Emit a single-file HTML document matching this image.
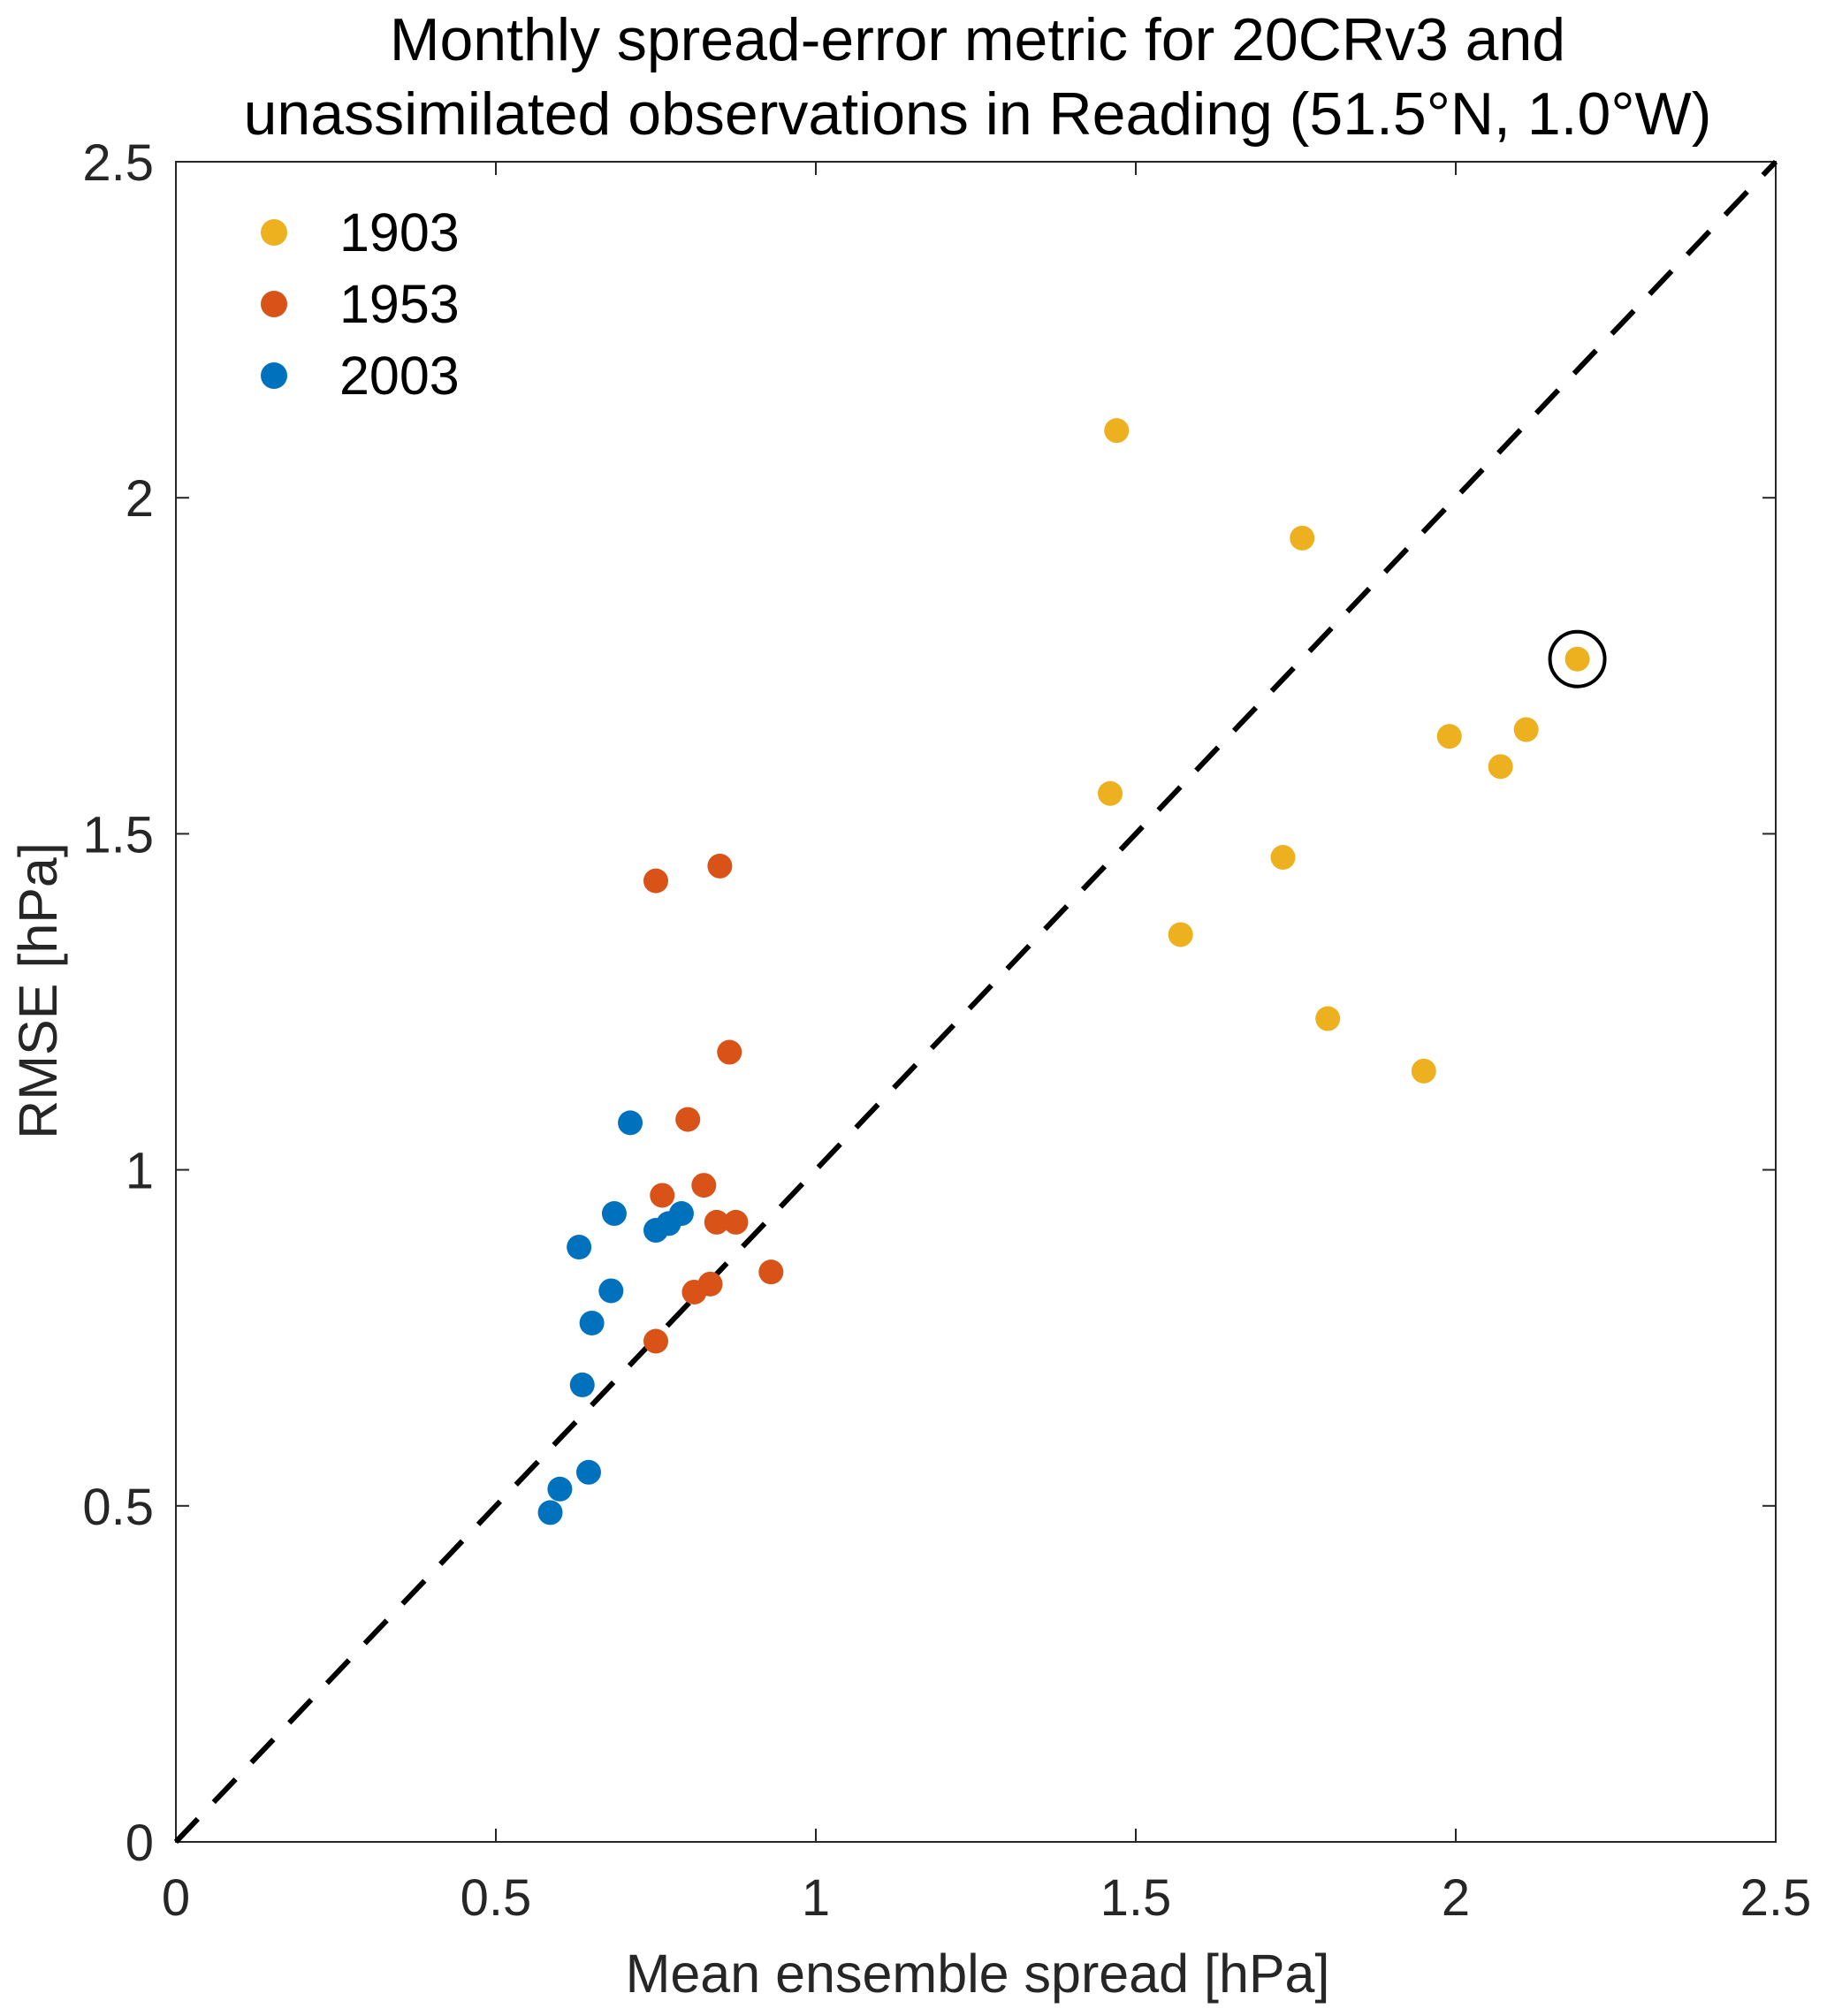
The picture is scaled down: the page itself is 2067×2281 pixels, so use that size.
<!DOCTYPE html>
<html><head><meta charset="utf-8"><style>
html,body{margin:0;padding:0;background:#fff;}
svg{display:block;font-family:"Liberation Sans",Arial,sans-serif;}
</style></head><body>
<svg id="chart" width="2067" height="2281" viewBox="0 0 2067 2281" xmlns="http://www.w3.org/2000/svg">
<text x="1106" y="68" font-size="68" text-anchor="middle" fill="#000">Monthly spread-error metric for 20CRv3 and</text>
<text x="1106" y="152" font-size="68" text-anchor="middle" fill="#000">unassimilated observations in Reading (51.5°N, 1.0°W)</text>
<g id="axes"></g>
<g id="marks"></g>
<text x="1106" y="2254" font-size="61" text-anchor="middle" fill="#262626">Mean ensemble spread [hPa]</text>
<text transform="translate(64,1121) rotate(-90)" font-size="61" text-anchor="middle" fill="#262626">RMSE [hPa]</text>
</svg>
<script>
const xTicks=[0,0.5,1,1.5,2,2.5];
const yTicks=[0,0.5,1,1.5,2,2.5];
const xTickLabels=["0","0.5","1","1.5","2","2.5"];
const yTickLabels=["0","0.5","1","1.5","2","2.5"];
const seriesNames=["1903","1953","2003"];
const x1903=[1.47,1.76,2.19,1.99,2.11,2.07,1.46,1.73,1.57,1.80,1.95];
const y1903=[2.10,1.94,1.76,1.645,1.655,1.60,1.56,1.465,1.35,1.225,1.147];
const x1953=[0.75,0.85,0.865,0.80,0.76,0.825,0.845,0.875,0.93,0.835,0.81,0.75];
const y1953=[1.43,1.452,1.175,1.075,0.962,0.977,0.922,0.922,0.848,0.83,0.818,0.745];
const x2003=[0.71,0.685,0.79,0.77,0.75,0.63,0.68,0.65,0.635,0.645,0.60,0.585];
const y2003=[1.07,0.935,0.935,0.92,0.91,0.885,0.82,0.772,0.68,0.55,0.525,0.49];
const highlightX=[2.19];
const highlightY=[1.76];
const colors=["#EDB120","#D95319","#0072BD"];
const L=199,R=2009,T=183,B=2084;
const sx=v=>L+(v-0)/(2.5-0)*(R-L);
const sy=v=>B-(v-0)/(2.5-0)*(B-T);
const NS="http://www.w3.org/2000/svg";
function mk(tag,attrs,parent){const e=document.createElementNS(NS,tag);for(const k in attrs)e.setAttribute(k,attrs[k]);parent.appendChild(e);return e;}
const axes=document.getElementById('axes'),marks=document.getElementById('marks');
const box=mk('rect',{x:L,y:T,width:R-L,height:B-T,fill:'none',stroke:'#262626','stroke-width':2},axes);


xTicks.forEach((v,i)=>{
 const a=mk('line',{x1:sx(v),x2:sx(v),y1:B,y2:B-15,stroke:'#262626','stroke-width':2},axes);
 
 
 const b=mk('line',{x1:sx(v),x2:sx(v),y1:T,y2:T+15,stroke:'#262626','stroke-width':2},axes);
 
 
 const t=mk('text',{x:sx(v),y:B+83,'font-size':58,'text-anchor':'middle',fill:'#262626'},axes);
 t.textContent=xTickLabels[i];
 
 
});
yTicks.forEach((v,i)=>{
 const a=mk('line',{x1:L,x2:L+15,y1:sy(v),y2:sy(v),stroke:'#262626','stroke-width':2},axes);
 
 
 const b=mk('line',{x1:R,x2:R-15,y1:sy(v),y2:sy(v),stroke:'#262626','stroke-width':2},axes);
 
 
 const t=mk('text',{x:L-25,y:sy(v)+21,'font-size':58,'text-anchor':'end',fill:'#262626'},axes);
 t.textContent=yTickLabels[i];
 
 
});
const diag=mk('line',{x1:sx(0),y1:sy(0),x2:sx(2.5),y2:sy(2.5),stroke:'#000','stroke-width':6,'stroke-dasharray':'36,26'},marks);


const xs=[x1903,x1953,x2003],ys=[y1903,y1953,y2003];
xs.forEach((arr,s)=>{
 arr.forEach((v,i)=>{
  const c=mk('circle',{cx:sx(v),cy:sy(ys[s][i]),r:14,fill:colors[s]},marks);
  
  
 });
});
highlightX.forEach((v,i)=>{
 const c=mk('circle',{cx:sx(v),cy:sy(highlightY[i]),r:31,fill:'none',stroke:'#000','stroke-width':4},marks);
 
 
});
seriesNames.forEach((n,i)=>{
 const y=263+i*81;
 const c=mk('circle',{cx:310,cy:y,r:15,fill:colors[i]},marks);
 
 
 const t=mk('text',{x:384,y:y+21,'font-size':61,fill:'#000'},marks);
 t.textContent=n;
 
 
});
</script>
</body></html>
